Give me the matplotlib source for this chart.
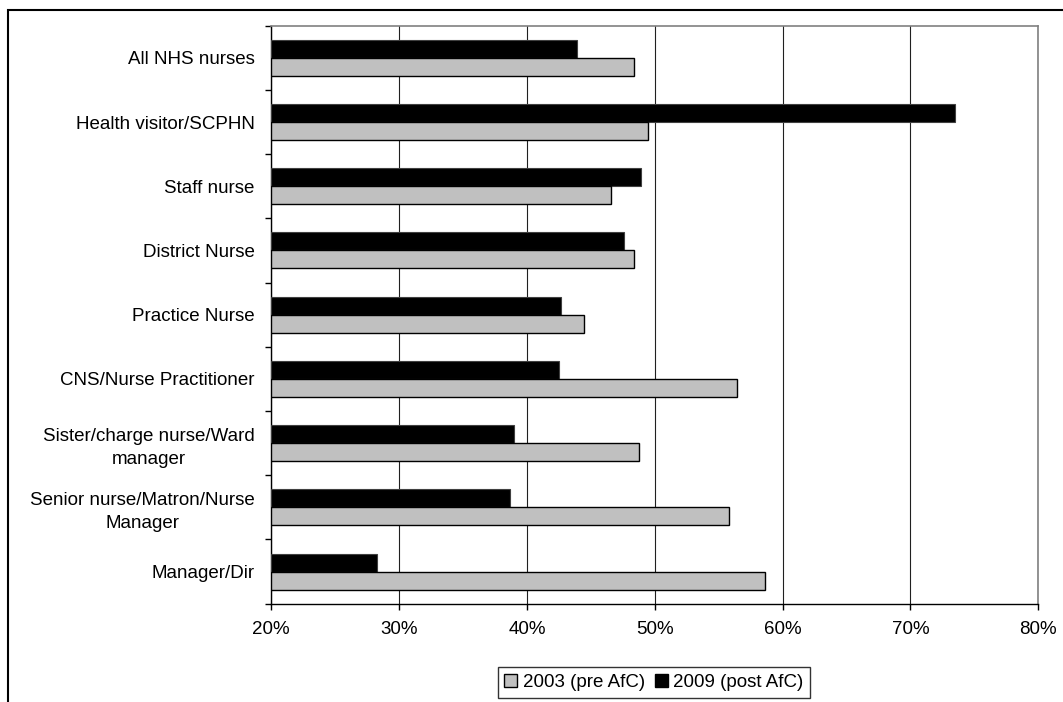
import matplotlib
matplotlib.use("Agg")
import matplotlib.pyplot as plt
import matplotlib.patches as mpatches
import numpy as np
from matplotlib.ticker import FuncFormatter

categories = [
    "All NHS nurses",
    "Health visitor/SCPHN",
    "Staff nurse",
    "District Nurse",
    "Practice Nurse",
    "CNS/Nurse Practitioner",
    "Sister/charge nurse/Ward\nmanager",
    "Senior nurse/Matron/Nurse\nManager",
    "Manager/Dir",
]
pre_2003 = [48.4, 49.5, 46.6, 48.4, 44.5, 56.4, 48.8, 55.8, 58.6]
post_2009 = [43.9, 73.5, 48.9, 47.6, 42.7, 42.5, 39.0, 38.7, 28.3]
series_labels = ["2003 (pre AfC)", "2009 (post AfC)"]
x_ticks = [20, 30, 40, 50, 60, 70, 80]

plt.rcParams["font.family"] = ["Liberation Sans", "DejaVu Sans"]

W, H = 1063, 702
PX = 72 / 100  # points per pixel at dpi 100
fig = plt.figure(figsize=(W / 100, H / 100), dpi=100)
ax = fig.add_axes([271.3 / W, 1 - 603.7 / H, (1038.3 - 271.3) / W, (603.7 - 25.7) / H])

y = np.arange(len(categories))
bh = 0.28
ax.barh(y - bh / 2, np.array(post_2009) - 20, left=20, height=bh, color="black",
        edgecolor="#404040", linewidth=0.8, zorder=3, label=series_labels[1])
ax.barh(y + bh / 2, np.array(pre_2003) - 20, left=20, height=bh, color="#c0c0c0",
        edgecolor="black", linewidth=1.0, zorder=3, label=series_labels[0])

ax.set_xlim(20, 80)
ax.set_ylim(len(categories) - 0.5, -0.5)
ax.set_xticks(x_ticks)
ax.xaxis.set_major_formatter(FuncFormatter(lambda v, _: f"{v:.0f}%"))
ax.tick_params(axis="x", direction="out", length=6 * PX, width=1, pad=11 * PX, labelsize=13.5)
ax.grid(axis="x", color="#202020", linewidth=0.8, zorder=0)

ax.set_yticks(np.arange(len(categories) + 1) - 0.5)
ax.set_yticklabels([])
ax.tick_params(axis="y", which="major", direction="out", length=6 * PX, width=1)
ax.set_yticks(y, minor=True)
ax.set_yticklabels(categories, minor=True, multialignment="center", fontsize=13.5,
                   linespacing=1.45)
ax.tick_params(axis="y", which="minor", length=0, pad=16.5 * PX)

for side in ("top", "right"):
    ax.spines[side].set_color("#808080")
    ax.spines[side].set_linewidth(1.2)
for side in ("left", "bottom"):
    ax.spines[side].set_color("black")
    ax.spines[side].set_linewidth(1.0)

handles = [
    mpatches.Patch(facecolor="#c0c0c0", edgecolor="black", linewidth=1.0),
    mpatches.Patch(facecolor="black", edgecolor="black", linewidth=1.0),
]
leg = fig.legend(handles, series_labels, loc="upper left",
                 bbox_to_anchor=(497.7 / W, 1 - 667.3 / H), ncol=2, frameon=True,
                 fancybox=False, edgecolor="black", fontsize=13.5,
                 handlelength=0.7, handleheight=0.7, handletextpad=0.3,
                 columnspacing=0.5, borderpad=0.35, borderaxespad=0)
leg.get_frame().set_linewidth(1.0)

# outer chart border (right and bottom edges run off the image)
fig.patches.append(mpatches.Rectangle((7.6 / W, -0.05), 1.1, 1 - 10.3 / H + 0.05,
                                      transform=fig.transFigure, fill=False,
                                      edgecolor="black", linewidth=1.5))

fig.savefig("out.png", dpi=100)
